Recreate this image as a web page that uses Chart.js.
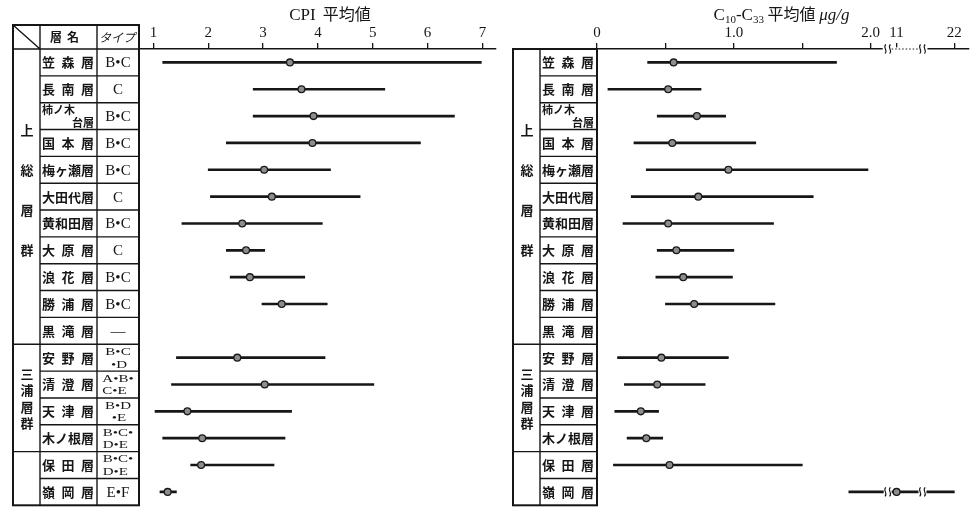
<!DOCTYPE html>
<html>
<head>
<meta charset="utf-8">
<script src="https://cdn.jsdelivr.net/npm/chart.js@4.4.1/dist/chart.umd.min.js"></script>
<style>
  html, body { margin: 0; padding: 0; background: #fff; }
  #wrap { position: relative; width: 973px; height: 510px; overflow: hidden; background: #fff; }
  #cpi { position: absolute; left: 0; top: 0; }
  #alk { position: absolute; left: 500px; top: 0; }
</style>
</head>
<body>
<div id="wrap">
  <canvas id="cpi" width="500" height="510"></canvas>
  <canvas id="alk" width="473" height="510"></canvas>
</div>
<script>
// Formations, top to bottom
const formations = ['笠森層', '長南層', '柿ノ木台層', '国本層', '梅ヶ瀬層', '大田代層', '黄和田層', '大原層',
  '浪花層', '勝浦層', '黒滝層', '安野層', '清澄層', '天津層', '木ノ根層', '保田層', '嶺岡層'];
const formationTypes = ['B•C', 'C', 'B•C', 'B•C', 'B•C', 'C', 'B•C', 'C', 'B•C', 'B•C', '—',
  'B•C\n•D', 'A•B•\nC•E', 'B•D\n•E', 'B•C•\nD•E', 'B•C•\nD•E', 'E•F'];

// Formation groups (name, number of formations)
const groupNames = ['上総層群', '三浦層群', ''];
const groupSizes = [11, 4, 2];

// CPI: minimum, mean, maximum
const cpiMin  = [1.17, 2.82, 2.82, 2.33, 2.00, 2.04, 1.52, 2.33, 2.40, 2.98, null, 1.42, 1.33, 1.03, 1.17, 1.68, 1.12];
const cpiMean = [3.49, 3.70, 3.92, 3.90, 3.02, 3.16, 2.62, 2.69, 2.76, 3.34, null, 2.53, 3.03, 1.62, 1.89, 1.87, 1.26];
const cpiMax  = [6.98, 5.22, 6.49, 5.87, 4.23, 4.77, 4.08, 3.03, 3.76, 4.17, null, 4.13, 5.02, 3.52, 3.40, 3.20, 1.42];
const cpiTicks = [1, 2, 3, 4, 5, 6, 7];

// C10-C33 n-alkanes (µg/g): minimum, mean, maximum
const alkMin  = [0.37, 0.08, 0.44, 0.27, 0.36, 0.25, 0.19, 0.44, 0.43, 0.50, null, 0.15, 0.20, 0.13, 0.22, 0.12, 1.84];
const alkMean = [0.56, 0.52, 0.73, 0.55, 0.96, 0.74, 0.52, 0.58, 0.63, 0.71, null, 0.47, 0.44, 0.32, 0.36, 0.53, 11];
const alkMax  = [1.75, 0.76, 0.94, 1.16, 1.98, 1.58, 1.29, 1.00, 0.99, 1.30, null, 0.96, 0.79, 0.45, 0.48, 1.50, 22];
const alkTicks = [0, 0.5, 1.0, 1.5, 2.0, 11, 22];
const alkTickLabels = ['0', '', '1.0', '', '2.0', '11', '22'];

// Broken axis: linear up to 2.0, then two compressed segments around 11 and 22
const alkBreaks = [2.124, 2.378];
function alkAxisPos(v) {
  if (v <= 2.09) return v;
  if (v <= 16) return 2.189 + (v - 11) * 0.01;
  return 2.611 + (v - 22) * 0.01;
}

const CJK = '"Noto Sans CJK JP", "Noto Sans CJK SC", sans-serif';
const SERIF = '"Liberation Serif", "DejaVu Serif", serif';
const INK = '#161616';

function rowBounds(chart) {
  const ys = chart.scales.y, a = chart.chartArea;
  const h = (a.bottom - a.top) / formations.length;
  return formations.map((_, i) => {
    const c = ys.getPixelForValue(i);
    return [c - h / 2, c + h / 2, c];
  });
}

function drawNames(ctx, rows, x0, x1) {
  ctx.textBaseline = 'middle';
  formations.forEach((name, i) => {
    const c = rows[i][2];
    if (name === '柿ノ木台層') {
      ctx.font = `bold 11px ${CJK}`;
      ctx.textAlign = 'left';
      ctx.fillText('柿ノ木', x0 + 2, c - 6);
      ctx.textAlign = 'right';
      ctx.fillText('台層', x1 - 3, c + 7);
      return;
    }
    ctx.font = `bold 13px ${CJK}`;
    ctx.textAlign = 'center';
    const chars = [...name];
    const first = x0 + 8.5, last = x1 - 9.5;
    chars.forEach((ch, k) => {
      ctx.fillText(ch, first + (last - first) * k / (chars.length - 1), c);
    });
  });
}

function drawTypes(ctx, rows, x0, x1) {
  const cx = (x0 + x1) / 2;
  ctx.textBaseline = 'middle';
  formationTypes.forEach((t, i) => {
    const c = rows[i][2];
    const lines = t.split('\n');
    if (lines.length === 1) {
      ctx.font = `15px ${SERIF}`;
      ctx.textAlign = 'center';
      ctx.fillText(t, cx, c + 1);
      return;
    }
    ctx.save();
    ctx.font = `15px ${SERIF}`;
    ctx.translate(cx, c + 0.5);
    ctx.scale(1, 0.76);
    const w0 = ctx.measureText(lines[0]).width;
    ctx.textAlign = 'left';
    ctx.fillText(lines[0], -w0 / 2, -8);
    if (lines[1].startsWith('•')) {
      ctx.textAlign = 'center';
      ctx.fillText(lines[1], 1, 8.5);
    } else {
      ctx.fillText(lines[1], -w0 / 2, 8.5);
    }
    ctx.restore();
  });
}

function drawTable(chart, withTypes) {
  const ctx = chart.ctx, a = chart.chartArea;
  const rows = rowBounds(chart);
  const xL = 13, xG = 40, xN = 97, xR = a.left;
  const top = withTypes ? 25 : a.top;
  const bottom = a.bottom;
  ctx.save();
  ctx.strokeStyle = INK;
  ctx.fillStyle = INK;
  ctx.lineWidth = 1.4;
  ctx.beginPath();
  rows.forEach(([t]) => { ctx.moveTo(xG, t); ctx.lineTo(xR, t); });
  let k = 0;
  groupSizes.forEach((n, g) => {
    if (g > 0) { const y = rows[k][0]; ctx.moveTo(xL, y); ctx.lineTo(xG, y); }
    k += n;
  });
  ctx.moveTo(xG, top); ctx.lineTo(xG, bottom);
  if (withTypes) {
    ctx.moveTo(xN, top); ctx.lineTo(xN, bottom);
    ctx.moveTo(xL, a.top); ctx.lineTo(xG, a.top);
    ctx.moveTo(xL, top); ctx.lineTo(xG, a.top);
  }
  ctx.stroke();
  ctx.lineWidth = 2;
  ctx.strokeRect(xL, top, xR - xL, bottom - top);

  // group labels, written vertically
  const gaps = [40, 16.5], shifts = [-7, 0.5];
  k = 0;
  ctx.font = `bold 13px ${CJK}`;
  ctx.textAlign = 'center';
  ctx.textBaseline = 'middle';
  groupNames.forEach((g, gi) => {
    const yTop = rows[k][0], yBot = rows[k + groupSizes[gi] - 1][1];
    const mid = (yTop + yBot) / 2 + (shifts[gi] || 0);
    const chars = [...g];
    chars.forEach((ch, j) => {
      ctx.fillText(ch, (xL + xG) / 2 + 0.5, mid + (j - (chars.length - 1) / 2) * gaps[gi]);
    });
    k += groupSizes[gi];
  });

  drawNames(ctx, rows, xG, withTypes ? xN : xR);
  if (withTypes) {
    drawTypes(ctx, rows, xN, xR);
    ctx.font = `bold 12px ${CJK}`;
    ctx.textAlign = 'center';
    ctx.fillText('層', 56, 37);
    ctx.fillText('名', 73, 37);
    ctx.font = `italic 12px ${CJK}`;
    ctx.fillText('タイプ', 117, 37);
  }
  ctx.restore();
}

// two small wavy strokes marking a break
function squiggle(ctx, x, y, h) {
  ctx.save();
  ctx.strokeStyle = INK;
  ctx.lineWidth = 1.1;
  for (const dx of [-2.3, 2.3]) {
    const cx = x + dx;
    ctx.beginPath();
    ctx.moveTo(cx + 0.5, y - h / 2);
    ctx.bezierCurveTo(cx - 3.2, y - h / 4, cx + 3.2, y + h / 4, cx - 0.5, y + h / 2);
    ctx.stroke();
  }
  ctx.restore();
}

const cpiDecor = {
  id: 'cpiDecor',
  afterDraw(chart) {
    drawTable(chart, true);
    const ctx = chart.ctx;
    ctx.save();
    ctx.fillStyle = INK;
    ctx.textBaseline = 'alphabetic';
    ctx.font = `17px ${SERIF}`;
    const a = 'CPI', b = '平均値';
    const wa = ctx.measureText(a).width;
    ctx.font = `16px ${CJK}`;
    const wb = ctx.measureText(b).width;
    const gap = 7, x0 = 330 - (wa + gap + wb) / 2;
    ctx.font = `17px ${SERIF}`;
    ctx.textAlign = 'left';
    ctx.fillText(a, x0, 19.5);
    ctx.font = `16px ${CJK}`;
    ctx.fillText(b, x0 + wa + gap, 19.5);
    ctx.restore();
  }
};

const alkDecor = {
  id: 'alkDecor',
  afterDraw(chart) {
    drawTable(chart, false);
    const ctx = chart.ctx, xs = chart.scales.x, ys = chart.scales.y;
    // title with subscripts
    const parts = [
      { t: 'C', f: `17px ${SERIF}`, dy: 0 },
      { t: '10', f: `11px ${SERIF}`, dy: 3 },
      { t: '-C', f: `17px ${SERIF}`, dy: 0 },
      { t: '33', f: `11px ${SERIF}`, dy: 3 },
      { t: ' 平均値 ', f: `16px ${CJK}`, dy: 0 },
      { t: 'μg/g', f: `italic 17px ${SERIF}`, dy: 0 }
    ];
    ctx.save();
    ctx.fillStyle = INK;
    ctx.textBaseline = 'alphabetic';
    ctx.textAlign = 'left';
    let total = 0;
    parts.forEach(p => { ctx.font = p.f; p.w = ctx.measureText(p.t).width; total += p.w; });
    let x = 281.5 - total / 2;
    parts.forEach(p => { ctx.font = p.f; ctx.fillText(p.t, x, 19.5 + p.dy); x += p.w; });

    // axis break: gap, dotted middle segment and wavy marks
    const b1 = xs.getPixelForValue(alkBreaks[0]);
    const b2 = xs.getPixelForValue(alkBreaks[1]);
    const yA = xs.bottom;
    ctx.fillStyle = '#fff';
    ctx.fillRect(b1 - 5, yA - 1.6, b2 - b1 + 10, 3.2);
    ctx.strokeStyle = INK;
    ctx.lineWidth = 1.2;
    ctx.setLineDash([1.5, 2]);
    ctx.beginPath();
    ctx.moveTo(b1 + 4, yA); ctx.lineTo(b2 - 4, yA);
    ctx.stroke();
    ctx.setLineDash([]);
    squiggle(ctx, b1, yA, 9);
    squiggle(ctx, b2, yA, 9);

    // same breaks on ranges that cross them
    formations.forEach((_, i) => {
      if (alkMax[i] == null || alkAxisPos(alkMax[i]) < alkBreaks[0]) return;
      const yr = ys.getPixelForValue(i);
      ctx.fillStyle = '#fff';
      alkBreaks.forEach(bp => {
        const px = xs.getPixelForValue(bp);
        if (alkAxisPos(alkMin[i]) < bp && alkAxisPos(alkMax[i]) > bp) {
          ctx.fillRect(px - 4, yr - 2.5, 8, 5);
          squiggle(ctx, px, yr, 9);
        }
      });
    });
    ctx.restore();
  }
};

function rangeDatasets(mins, means, maxs, mapFn) {
  return [
    {
      type: 'line', indexAxis: 'y', order: 0,
      data: means.map(v => v == null ? null : mapFn(v)),
      showLine: false,
      pointRadius: 3.4, pointHoverRadius: 3.4,
      pointBackgroundColor: '#8d8d8d', pointBorderColor: '#1a1a1a', pointBorderWidth: 1.3
    },
    {
      type: 'bar', indexAxis: 'y', order: 1,
      data: mins.map((v, i) => v == null ? null : [mapFn(v), mapFn(maxs[i])]),
      backgroundColor: INK, barThickness: 2, borderWidth: 0
    }
  ];
}

function xAxis(min, max, tickValues, labelFn) {
  return {
    type: 'linear', position: 'top', min, max,
    afterBuildTicks: s => { s.ticks = tickValues.map(v => ({ value: v })); },
    afterFit: s => { s.height = 49; },
    ticks: {
      font: { family: SERIF, size: 15 }, color: INK, padding: 1,
      maxRotation: 0, autoSkip: false,
      callback: labelFn
    },
    grid: { drawOnChartArea: false, drawTicks: true, tickLength: 6, color: INK, lineWidth: 1.3 },
    border: { display: true, color: INK, width: 1.5 }
  };
}

function baseOptions(padLeft, padRight, x) {
  return {
    indexAxis: 'y',
    responsive: false,
    animation: false,
    events: [],
    layout: { padding: { left: padLeft, right: padRight, top: 0, bottom: 1 } },
    plugins: { legend: { display: false }, tooltip: { enabled: false } },
    scales: {
      y: { type: 'category', display: false, offset: true },
      x
    }
  };
}

new Chart(document.getElementById('cpi'), {
  type: 'bar',
  data: { labels: formations, datasets: rangeDatasets(cpiMin, cpiMean, cpiMax, v => v) },
  options: baseOptions(139, 2, xAxis(0.7376, 7.235, cpiTicks, v => String(v))),
  plugins: [cpiDecor]
});

new Chart(document.getElementById('alk'), {
  type: 'bar',
  data: { labels: formations, datasets: rangeDatasets(alkMin, alkMean, alkMax, alkAxisPos) },
  options: baseOptions(97, 3, xAxis(0, 2.713, alkTicks.map(alkAxisPos), (v, i) => alkTickLabels[i])),
  plugins: [alkDecor]
});
</script>
</body>
</html>
